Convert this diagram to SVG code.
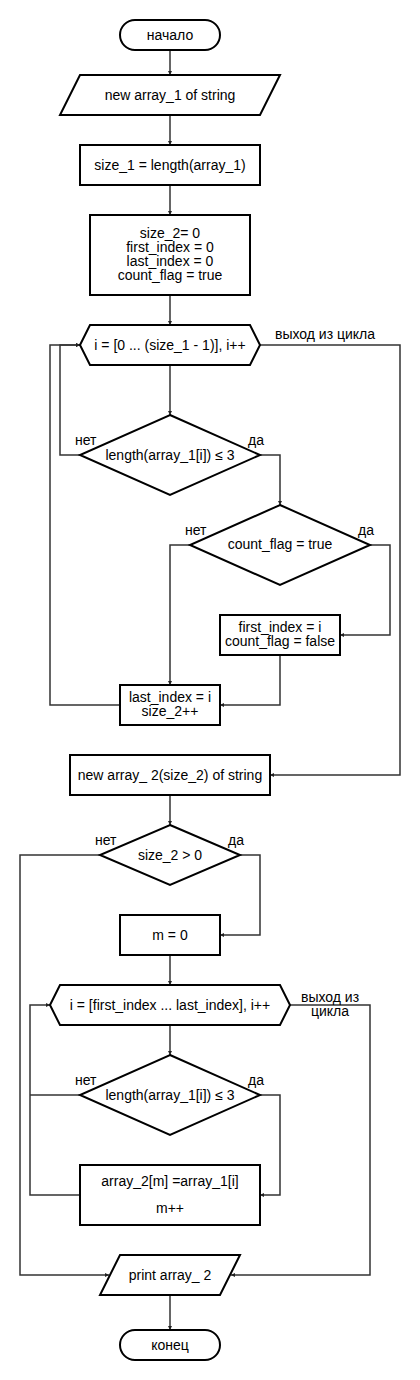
<svg xmlns="http://www.w3.org/2000/svg" width="420" height="1380" viewBox="0 0 420 1380">
<defs>
<marker id="ah" viewBox="0 0 4 4" refX="4" refY="2" markerWidth="4" markerHeight="4" markerUnits="userSpaceOnUse" orient="auto">
<path d="M0,0 L4,2 L0,4 Z" fill="#222"/>
</marker>
<style>
.s{fill:#fff;stroke:#000;stroke-width:2}
.t{font-family:"Liberation Sans",Arial,sans-serif;font-size:14px;fill:#000;text-anchor:middle;dominant-baseline:central}
.l{font-family:"Liberation Sans",Arial,sans-serif;font-size:14px;fill:#000;dominant-baseline:central}
.c{fill:none;stroke:#333;stroke-width:1.5}
</style>
</defs>
<rect width="420" height="1380" fill="#fff"/>
<g id="connectors">
<path class="c" d="M170,50 V75" marker-end="url(#ah)"/>
<path class="c" d="M170,115 V145" marker-end="url(#ah)"/>
<path class="c" d="M170,185 V215" marker-end="url(#ah)"/>
<path class="c" d="M170,295 V325" marker-end="url(#ah)"/>
<path class="c" d="M170,365 V415" marker-end="url(#ah)"/>
<path class="c" d="M80,455 H60 V345 H80" marker-end="url(#ah)"/>
<path class="c" d="M260,455 H280 V505" marker-end="url(#ah)"/>
<path class="c" d="M190,545 H170 V685" marker-end="url(#ah)"/>
<path class="c" d="M370,545 H390 V635 H340" marker-end="url(#ah)"/>
<path class="c" d="M280,655 V705 H220" marker-end="url(#ah)"/>
<path class="c" d="M120,705 H50 V345 H80" marker-end="url(#ah)"/>
<path class="c" d="M260,345 H400 V775 H270" marker-end="url(#ah)"/>
<path class="c" d="M170,795 V825" marker-end="url(#ah)"/>
<path class="c" d="M240,855 H260 V935 H220" marker-end="url(#ah)"/>
<path class="c" d="M100,855 H20 V1275 H109" marker-end="url(#ah)"/>
<path class="c" d="M170,955 V985" marker-end="url(#ah)"/>
<path class="c" d="M170,1025 V1055" marker-end="url(#ah)"/>
<path class="c" d="M80,1095 H30"/>
<path class="c" d="M80,1195 H30 V1005 H50" marker-end="url(#ah)"/>
<path class="c" d="M260,1095 H280 V1195 H260" marker-end="url(#ah)"/>
<path class="c" d="M290,1005 H370 V1275 H231" marker-end="url(#ah)"/>
<path class="c" d="M170,1295 V1330" marker-end="url(#ah)"/>
</g>
<g id="start">
<rect class="s" x="120" y="20" width="100" height="30" rx="15"/>
<text class="t" x="170" y="35">начало</text>
</g>
<g id="input1">
<polygon class="s" points="80,75 280,75 260,115 60,115"/>
<text class="t" x="170" y="95">new array_1 of string</text>
</g>
<g id="size1">
<rect class="s" x="80" y="145" width="180" height="40"/>
<text class="t" x="170" y="165">size_1 = length(array_1)</text>
</g>
<g id="init">
<rect class="s" x="90" y="215" width="160" height="80"/>
<text class="t" x="170" y="233">size_2= 0</text>
<text class="t" x="170" y="247">first_index = 0</text>
<text class="t" x="170" y="261">last_index = 0</text>
<text class="t" x="170" y="275">count_flag = true</text>
</g>
<g id="loop1">
<polygon class="s" points="80,345 90,325 250,325 260,345 250,365 90,365"/>
<text class="t" x="170" y="345">i = [0 ... (size_1 - 1)], i++</text>
<text class="t" x="325" y="334">выход из цикла</text>
</g>
<g id="cond1">
<polygon class="s" points="170,415 260,455 170,495 80,455"/>
<text class="t" x="170" y="455">length(array_1[i]) ≤ 3</text>
<text class="l" x="75" y="440">нет</text>
<text class="l" x="248" y="440">да</text>
</g>
<g id="cond2">
<polygon class="s" points="280,505 370,545 280,585 190,545"/>
<text class="t" x="280" y="544">count_flag = true</text>
<text class="l" x="185" y="530">нет</text>
<text class="l" x="358" y="530">да</text>
</g>
<g id="setfirst">
<rect class="s" x="220" y="615" width="120" height="40"/>
<text class="t" x="280" y="627">first_index = i</text>
<text class="t" x="280" y="641">count_flag = false</text>
</g>
<g id="setlast">
<rect class="s" x="120" y="685" width="100" height="40"/>
<text class="t" x="170" y="697">last_index = i</text>
<text class="t" x="170" y="711">size_2++</text>
</g>
<g id="newarr2">
<rect class="s" x="70" y="755" width="200" height="40"/>
<text class="t" x="170" y="775">new array_ 2(size_2) of string</text>
</g>
<g id="cond3">
<polygon class="s" points="170,825 240,855 170,885 100,855"/>
<text class="t" x="170" y="855">size_2 &gt; 0</text>
<text class="l" x="95" y="840">нет</text>
<text class="l" x="228" y="840">да</text>
</g>
<g id="m0">
<rect class="s" x="120" y="915" width="100" height="40"/>
<text class="t" x="170" y="935">m = 0</text>
</g>
<g id="loop2">
<polygon class="s" points="50,1005 60,985 280,985 290,1005 280,1025 60,1025"/>
<text class="t" x="170" y="1005">i = [first_index ... last_index], i++</text>
<text class="t" x="330" y="997">выход из</text>
<text class="t" x="330" y="1011">цикла</text>
</g>
<g id="cond4">
<polygon class="s" points="170,1055 260,1095 170,1135 80,1095"/>
<text class="t" x="170" y="1095">length(array_1[i]) ≤ 3</text>
<text class="l" x="75" y="1080">нет</text>
<text class="l" x="248" y="1080">да</text>
</g>
<g id="assign">
<rect class="s" x="80" y="1165" width="180" height="60"/>
<text class="t" x="170" y="1181">array_2[m] =array_1[i]</text>
<text class="t" x="170" y="1208">m++</text>
</g>
<g id="print">
<polygon class="s" points="120,1255 240,1255 220,1295 100,1295"/>
<text class="t" x="170" y="1275">print array_ 2</text>
</g>
<g id="end">
<rect class="s" x="120" y="1330" width="100" height="30" rx="15"/>
<text class="t" x="170" y="1345">конец</text>
</g>
</svg>
